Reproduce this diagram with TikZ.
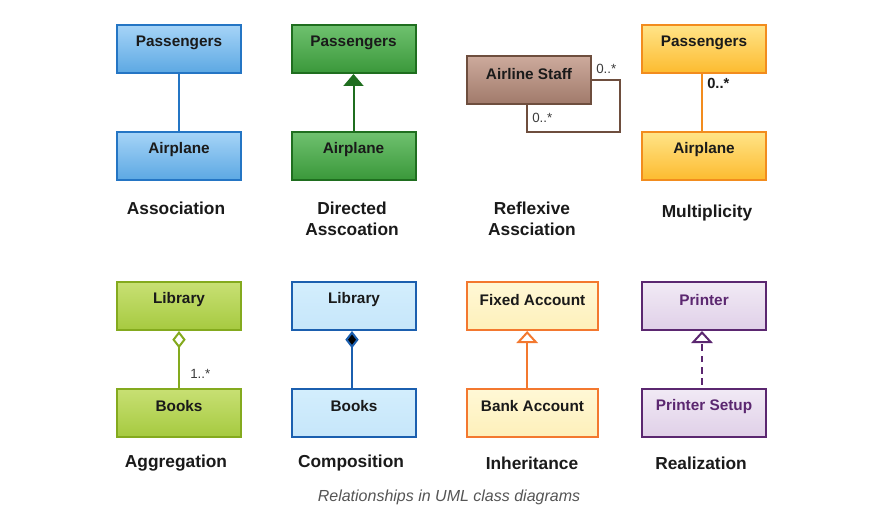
\documentclass[tikz,border=0pt]{standalone}
\usepackage{fontspec}
\setmainfont{Liberation Sans}
\usetikzlibrary{arrows.meta}

% palette
\definecolor{asTop}{HTML}{A6D4F7}\definecolor{asBot}{HTML}{5CA8E3}\definecolor{asLine}{HTML}{2475C4}
\definecolor{diTop}{HTML}{6FC16F}\definecolor{diBot}{HTML}{3A983A}\definecolor{diLine}{HTML}{1F6E1F}
\definecolor{reTop}{HTML}{CCA99C}\definecolor{reBot}{HTML}{A07A6A}\definecolor{reLine}{HTML}{6E4E3E}
\definecolor{muTop}{HTML}{FFE488}\definecolor{muBot}{HTML}{FDBB2F}\definecolor{muLine}{HTML}{F28C1E}
\definecolor{agTop}{HTML}{C8E074}\definecolor{agBot}{HTML}{A6CA40}\definecolor{agLine}{HTML}{84AA1E}
\definecolor{coTop}{HTML}{D3EEFD}\definecolor{coBot}{HTML}{C6E6FA}\definecolor{coLine}{HTML}{1B5FAF}
\definecolor{inTop}{HTML}{FFF8D6}\definecolor{inBot}{HTML}{FEF0BA}\definecolor{inLine}{HTML}{F3782F}
\definecolor{rzTop}{HTML}{F1EAF5}\definecolor{rzBot}{HTML}{E0D0E8}\definecolor{rzLine}{HTML}{5B2770}
\definecolor{txt}{HTML}{1A1A1A}
\definecolor{note}{HTML}{555555}

\tikzset{
  cls/.style={draw, line width=1.5pt, minimum width=93pt, minimum height=36pt, inner sep=0pt},
  clsname/.style={font=\fontsize{11.5}{13}\selectfont\bfseries, text=txt, inner sep=0pt},
  caption/.style={font=\fontsize{13}{16}\selectfont\bfseries, text=txt, align=center, inner sep=0pt},
  mult/.style={font=\fontsize{10}{12}\selectfont, text=txt!85, inner sep=0pt},
  link/.style={line width=1.5pt},
}

\begin{document}
\begin{tikzpicture}[x=0.75pt, y=-0.75pt]
\useasboundingbox[fill=white] (0,0) rectangle (892,527);

% ---------- Association ----------
\node[cls, asLine, top color=asTop, bottom color=asBot] (asP) at (179,49) {};
\node[cls, asLine, top color=asTop, bottom color=asBot] (asA) at (179,156) {};
\node[clsname] at ([yshift=-14pt]asP.north) {Passengers};
\node[clsname] at ([yshift=-14pt]asA.north) {Airplane};
\draw[link, asLine] (asA) -- (asP);
\node[caption] (asC) at (176,208) {Association};

% ---------- Directed association ----------
\node[cls, diLine, top color=diTop, bottom color=diBot] (diP) at (353.5,49) {};
\node[cls, diLine, top color=diTop, bottom color=diBot] (diA) at (353.5,156) {};
\node[clsname] at ([yshift=-14pt]diP.north) {Passengers};
\node[clsname] at ([yshift=-14pt]diA.north) {Airplane};
\draw[link, diLine, -{Triangle[length=9pt, width=15pt]}] (diA) -- (diP);
\node[caption] (diC) at (352,218.5) {Directed\\Asscoation};

% ---------- Reflexive association ----------
\node[cls, reLine, top color=reTop, bottom color=reBot] (reS) at (529,80.5) {};
\node[clsname] at ([yshift=-14pt]reS.north) {Airline Staff};
\draw[line width=1.5pt, reLine] (reS.east) -| ++(28,52) -| ([xshift=-1.5pt]reS.south);
\node[mult, anchor=west] (reM1) at (596,69) {0..*};
\node[mult, anchor=west] (reM2) at (532,118) {0..*};
\node[caption] (reC) at (532,218.5) {Reflexive\\Assciation};

% ---------- Multiplicity ----------
\node[cls, muLine, top color=muTop, bottom color=muBot] (muP) at (704,49) {};
\node[cls, muLine, top color=muTop, bottom color=muBot] (muA) at (704,156) {};
\node[clsname] at ([yshift=-14pt]muP.north) {Passengers};
\node[clsname] at ([yshift=-14pt]muA.north) {Airplane};
\draw[link, muLine] ([xshift=-1.5pt]muA.north) -- ([xshift=-1.5pt]muP.south);
\node[mult, font=\fontsize{11}{13}\selectfont\bfseries, text=txt, anchor=west] (muM) at (707,83) {0..*};
\node[caption] (muC) at (707,213) {Multiplicity};

% ---------- Aggregation ----------
\node[cls, agLine, top color=agTop, bottom color=agBot] (agL) at (179,306) {};
\node[cls, agLine, top color=agTop, bottom color=agBot] (agB) at (179,412.5) {};
\node[clsname] at ([yshift=-14pt]agL.north) {Library};
\node[clsname] at ([yshift=-14pt]agB.north) {Books};
\draw[link, agLine, -{Diamond[open, fill=white, length=13pt, width=10pt]}] (agB) -- (agL);
\node[mult, anchor=west] (agM) at (190,374) {1..*};
\node[caption] (agC) at (176,463) {Aggregation};

% ---------- Composition ----------
\node[cls, coLine, top color=coTop, bottom color=coBot] (coL) at (354,306) {};
\node[cls, coLine, top color=coTop, bottom color=coBot] (coB) at (354,412.5) {};
\node[clsname] at ([yshift=-14pt]coL.north) {Library};
\node[clsname] at ([yshift=-14pt]coB.north) {Books};
\draw[link, coLine, -{Diamond[fill=black, length=13pt, width=10pt]}] ([xshift=-1.5pt]coB.north) -- ([xshift=-1.5pt]coL.south);
\node[caption] (coC) at (351,463) {Composition};

% ---------- Inheritance ----------
\node[cls, inLine, top color=inTop, bottom color=inBot, minimum width=98pt] (inF) at (532.5,306) {};
\node[cls, inLine, top color=inTop, bottom color=inBot, minimum width=98pt] (inB) at (532.5,412.5) {};
\node[clsname] at ([yshift=-14pt]inF.north) {Fixed Account};
\node[clsname] at ([yshift=-14pt]inB.north) {Bank Account};
\draw[link, inLine, -{Triangle[open, fill=white, length=9pt, width=16pt]}] ([xshift=-4pt]inB.north) -- ([xshift=-4pt]inF.south);
\node[caption] (inC) at (532,463) {Inheritance};

% ---------- Realization ----------
\node[cls, rzLine, top color=rzTop, bottom color=rzBot] (rzP) at (704,306) {};
\node[cls, rzLine, top color=rzTop, bottom color=rzBot] (rzS) at (704,412.5) {};
\node[clsname, text=rzLine] at ([yshift=-14pt]rzP.north) {Printer};
\node[clsname, text=rzLine] at ([yshift=-14pt]rzS.north) {Printer Setup};
\draw[link, rzLine, dash pattern=on 5pt off 3.5pt, -{Triangle[open, fill=white, length=9pt, width=16pt, sep=0pt]}]
  ([xshift=-1.5pt, yshift=2pt]rzS.north) -- ([xshift=-1.5pt]rzP.south);
\node[caption] (rzC) at (701,463) {Realization};

% ---------- figure caption ----------
\node[font=\fontsize{12}{14}\selectfont\itshape, text=note, inner sep=0pt] (fig) at (449,497)
  {Relationships in UML class diagrams};
\end{tikzpicture}
\end{document}
